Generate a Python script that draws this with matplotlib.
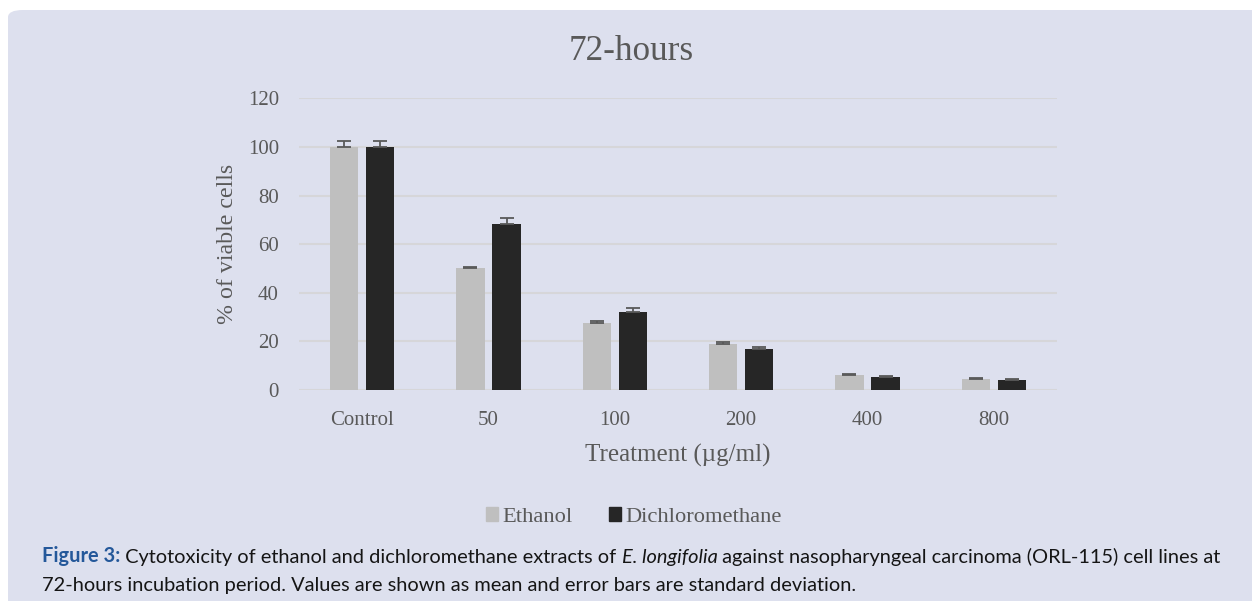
import numpy as np
import matplotlib.pyplot as plt
from matplotlib.patches import FancyBboxPatch

# data
categories = ["Control", "50", "100", "200", "400", "800"]
ethanol = [100, 50.1, 27.7, 19.1, 6.3, 4.7]
ethanol_sd = [2.3, 0.4, 0.5, 0.5, 0.3, 0.3]
dcm = [100, 68.4, 32.1, 16.9, 5.4, 4.3]
dcm_sd = [2.3, 2.5, 1.6, 0.7, 0.3, 0.3]

bg = "#dde0ee"
txt = "#595959"
serif = ["Liberation Serif", "DejaVu Serif"]
W, H = 1252, 601

fig = plt.figure(figsize=(12.52, 6.01), dpi=100)
fig.patch.set_facecolor("white")

# rounded panel behind everything
panel = FancyBboxPatch((8 / W, -0.05), 1.2, 1.05 - 10 / H,
                       boxstyle="round,pad=0,rounding_size=0.012",
                       transform=fig.transFigure, facecolor=bg,
                       edgecolor="none", zorder=-10)
fig.patches.append(panel)

ax = fig.add_axes([299 / W, 1 - 390 / H, 758 / W, (390 - 98.3) / H])
ax.set_facecolor("none")

x = np.arange(len(categories))
w = 0.222
off = 0.1425
ax.bar(x - off, ethanol, w, color="#bfbfbf", zorder=2)
ax.bar(x + off, dcm, w, color="#262626", zorder=2)
# only the upper half of the error bar is visible above each bar
ax.errorbar(x - off, ethanol, yerr=[np.zeros(len(x)), ethanol_sd], fmt="none",
            ecolor="#595959", elinewidth=1.3, capsize=5, capthick=1.3, zorder=3)
ax.errorbar(x + off, dcm, yerr=[np.zeros(len(x)), dcm_sd], fmt="none",
            ecolor="#595959", elinewidth=1.3, capsize=5, capthick=1.3, zorder=3)

ax.set_xlim(-0.5, len(categories) - 0.5)
ax.set_ylim(0, 120)
ax.set_yticks(range(0, 121, 20))
ax.set_xticks(x)
ax.set_xticklabels(categories)
ax.yaxis.grid(True, color="#d6d6d9", linewidth=1.5, zorder=0)
ax.set_axisbelow(True)
for s in ax.spines.values():
    s.set_visible(False)
ax.tick_params(length=0, labelsize=15, labelcolor=txt)
ax.tick_params(axis="x", pad=15)
ax.tick_params(axis="y", pad=14.4)
for lab in ax.get_xticklabels() + ax.get_yticklabels():
    lab.set_family(serif)

ax.set_xlabel("Treatment (\u00b5g/ml)", fontsize=18, color=txt, family=serif, labelpad=10)
ax.set_ylabel("% of viable cells", fontsize=17.2, color=txt, family=serif, labelpad=7)

fig.text(631 / W, 1 - 60 / H, "72-hours", ha="center", va="baseline",
         fontsize=25.3, color=txt, family=serif)

handles = [plt.Rectangle((0, 0), 1, 1, color="#bfbfbf"),
           plt.Rectangle((0, 0), 1, 1, color="#262626")]
fig.legend(handles, ["Ethanol", "Dichloromethane"], loc="center",
           bbox_to_anchor=(634 / W, 1 - 517 / H), ncol=2, frameon=False,
           prop={"family": serif, "size": 16.2}, labelcolor=txt,
           handlelength=0.55, handleheight=0.55, handletextpad=0.2,
           columnspacing=1.6)

# caption: blue bold label, then normal text with an italic species name
cap = ["Lato", "DejaVu Sans"]
cs = 14.4
t = fig.text(42 / W, 1 - 562 / H, "Figure 3:", fontsize=cs, color="#24589a",
             weight="bold", family=cap, va="baseline")
pieces = [(" Cytotoxicity of ethanol and dichloromethane extracts of ", "normal"),
          ("E. longifolia", "italic"),
          (" against nasopharyngeal carcinoma (ORL-115) cell lines at", "normal")]
last = t
for s, st in pieces:
    # chain each piece to the right end of the previous one
    last = ax.annotate(s, xy=(1, 0), xycoords=last, va="bottom", ha="left",
                       fontsize=cs, color="#151515", style=st, family=cap,
                       annotation_clip=False)
fig.text(42 / W, 1 - 591 / H, "72-hours incubation period. Values are shown as mean "
         "and error bars are standard deviation.", fontsize=cs, color="#151515",
         family=cap, va="baseline")

fig.savefig("out.png", dpi=100, facecolor="white")
